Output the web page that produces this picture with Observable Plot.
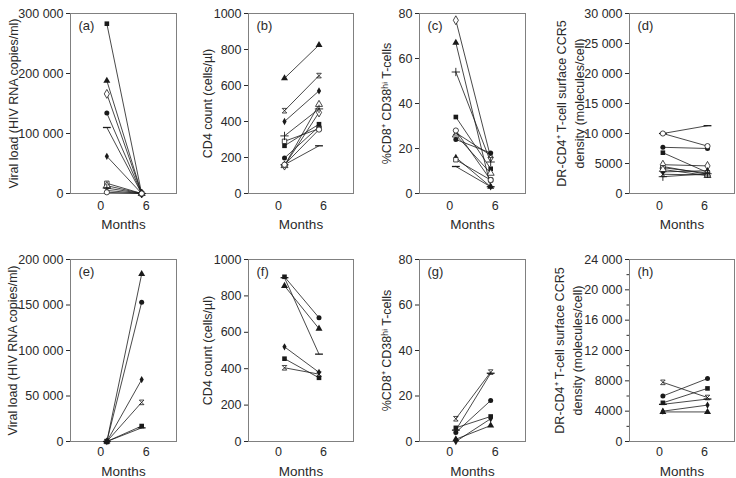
<!DOCTYPE html>
<html><head><meta charset="utf-8">
<script src="https://cdn.jsdelivr.net/npm/d3@7"></script>
<script src="https://cdn.jsdelivr.net/npm/@observablehq/plot@0.6"></script>
<style>
body{margin:0;background:#fff;}
#chart{position:relative;width:736px;height:478px;overflow:hidden;}
#chart svg{position:absolute;overflow:visible;background:none;}
</style></head><body><div id="chart"></div>
<script>
// ---------- data ----------
const months = [0, 6];
const monthPosA = [0.8, 5.4];   // plotted month positions, columns 1-3
const monthPosB = [0.45, 6.4];  // plotted month positions, column 4

// top row: 11 subjects
const topSymbols = ["sq","tri","diaO","cir","dash","dia","sqO","triO","plus","xbar","cirO"];
const viralTop0 = [283000,188000,166000,134000,110000,62000,17000,13000,9000,5000,2000];
const viralTop6 = [0,0,0,0,0,0,0,0,0,0,0];
const cd4Top0 = [265,640,155,197,160,400,290,155,320,460,160];
const cd4Top6 = [385,825,450,371,265,570,360,495,470,655,355];
const cd8Top0 = [34,67,77,24,12,16,15,26,54,27,28];
const cd8Top6 = [11,3,16,18,3,3,6,9,14,17,6];
const ccr5Top0 = [6800,4500,4800,7700,10000,3600,4300,4000,2800,3200,10000];
const ccr5Top6 = [3500,3200,4600,7500,11300,3800,3400,3000,3300,3100,7900];

// bottom row: 6 subjects
const bottomSymbols = ["tri","cir","dia","xbar","dash","sq"];
const bottomSymbolsF0 = ["tri","sq","dia","xbar","dash","sq"];
const viralBot0 = [0,0,0,0,0,0];
const viralBot6 = [184000,153000,68000,43000,15000,17000];
const cd4Bot0 = [855,905,520,405,900,455];
const cd4Bot6 = [620,680,380,370,480,350];
const cd8Bot0 = [1,4,0,10,5,6];
const cd8Bot6 = [7,18,10,30.5,30,11];
const ccr5Bot0 = [3900,6000,4000,7800,4900,5100];
const ccr5Bot6 = [3900,8300,4800,5800,5600,7000];

// axis ticks
const viralTicksTop = [0,100000,200000,300000];
const viralTicksBot = [0,50000,100000,150000,200000];
const cd4Ticks = [0,200,400,600,800,1000];
const cd8Ticks = [0,20,40,60,80];
const ccr5TicksTop = [0,5000,10000,15000,20000,25000,30000];
const ccr5TicksBot = [0,4000,8000,12000,16000,20000,24000];
const ccr5MinorBot = [2000,6000,10000,14000,18000,22000];

const labViral = "Viral load (HIV RNA copies/ml)";
const labCD4 = "CD4 count (cells/\u00b5l)";
const labCD8 = "%CD8\u207a CD38\u02b0\u2071 T-cells";
const labCCR5 = "DR-CD4\u207a T-cell surface CCR5\ndensity (molecules/cell)";

// ---------- rendering ----------
const ink = "#1a1a1a";
const dashSym = {draw(ctx, size){ const w = Math.sqrt(size)*0.85; ctx.moveTo(-w,0); ctx.lineTo(w,0); }};
const xbarSym = {draw(ctx, size){ const r = Math.sqrt(size)*0.5;
  ctx.moveTo(-r,-r); ctx.lineTo(r,-r); ctx.moveTo(-r,r); ctx.lineTo(r,r);
  ctx.moveTo(-r,-r); ctx.lineTo(r,r); ctx.moveTo(r,-r); ctx.lineTo(-r,r); }};
const symStyle = {
  sq:   {symbol:"square", fill:ink, r:2.6},
  tri:  {symbol:"triangle", fill:ink, r:2.6},
  diaO: {symbol:"diamond", fill:"white", stroke:ink, strokeWidth:0.8, r:2.7},
  cir:  {symbol:"circle", fill:ink, r:2.5},
  dash: {symbol:dashSym, fill:"none", stroke:ink, strokeWidth:1.3, r:2.6},
  dia:  {symbol:"diamond", fill:ink, r:2.2},
  sqO:  {symbol:"square", fill:"white", stroke:ink, strokeWidth:0.8, r:2.5},
  triO: {symbol:"triangle", fill:"white", stroke:ink, strokeWidth:0.8, r:2.6},
  plus: {symbol:"plus", fill:"none", stroke:ink, strokeWidth:0.9, r:2.8},
  xbar: {symbol:xbarSym, fill:"none", stroke:ink, strokeWidth:0.8, r:2.6},
  cirO: {symbol:"circle", fill:"white", stroke:ink, strokeWidth:0.8, r:2.6}
};
const fmt = v => v >= 10000 ? d3.format(",")(v).replace(/,/g, " ") : String(v);

const cols = [
  {left:0,   width:186, mL:70, mR:10},
  {left:186, width:184, mL:62, mR:17},
  {left:370, width:180, mL:49, mR:25},
  {left:550, width:186, mL:79, mR:2}
];
const rowsGeo = [
  {top:0,   height:235, mT:13, mB:42, tickPad:8, monthsDy:31},
  {top:235, height:243, mT:24, mB:37, tickPad:6, monthsDy:30}
];

function panel(c, r, p) {
  const col = cols[c], row = rowsGeo[r];
  const syms0 = p.syms0 || p.syms;
  const data = [];
  p.v0.forEach((v, i) => {
    data.push({id:i, month:p.pos[0], value:v, sym:syms0[i]});
    data.push({id:i, month:p.pos[1], value:p.v6[i], sym:p.syms[i]});
  });
  const marks = [
    Plot.axisY({ticks:p.ticks, tickFormat:fmt, tickSize:4, tickPadding:3, label:null}),
  ];
  if (p.minor) marks.push(Plot.axisY({ticks:p.minor, tickFormat:() => "", tickSize:2.5, label:null}));
  marks.push(
    Plot.axisX({ticks:[0,6], tickSize:0, tickPadding:row.tickPad, label:null}),
    Plot.frame({stroke:"#808080", strokeWidth:1}),
    Plot.line(data, {x:"month", y:"value", z:"id", stroke:ink, strokeWidth:0.8})
  );
  for (const d of data) marks.push(Plot.dot([d], {x:"month", y:"value", ...symStyle[d.sym]}));
  marks.push(
    Plot.text([p.tag], {frameAnchor:"top-left", dx:8, dy:7, textAnchor:"start", lineAnchor:"top", fontSize:13}),
    Plot.text(["Months"], {frameAnchor:"bottom", dy:row.monthsDy, lineAnchor:"middle", fontSize:13.5}),
    Plot.text([p.label], {frameAnchor:"left", rotate:-90, dx:p.labelDx, textAnchor:"middle", lineAnchor:"middle", fontSize:12.5, lineHeight:1.4})
  );
  const svg = Plot.plot({
    width: col.width, height: row.height,
    marginLeft: col.mL, marginRight: col.mR, marginTop: row.mT, marginBottom: row.mB,
    x: {domain:[-4, 10]},
    y: {domain:[0, p.max]},
    style: {fontFamily:"'Liberation Sans', Arial, Helvetica, sans-serif", fontSize:"12.5px", color:"#2a2a2a", background:"none", overflow:"visible"},
    marks
  });
  svg.style.left = col.left + "px";
  svg.style.top = row.top + "px";
  document.getElementById("chart").appendChild(svg);
}

panel(0,0,{tag:"(a)", v0:viralTop0, v6:viralTop6, syms:topSymbols, pos:monthPosA, max:300000, ticks:viralTicksTop, label:labViral, labelDx:-58});
panel(1,0,{tag:"(b)", v0:cd4Top0, v6:cd4Top6, syms:topSymbols, pos:monthPosA, max:1000, ticks:cd4Ticks, label:labCD4, labelDx:-42});
panel(2,0,{tag:"(c)", v0:cd8Top0, v6:cd8Top6, syms:topSymbols, pos:monthPosA, max:80, ticks:cd8Ticks, label:labCD8, labelDx:-34});
panel(3,0,{tag:"(d)", v0:ccr5Top0, v6:ccr5Top6, syms:topSymbols, pos:monthPosB, max:30000, ticks:ccr5TicksTop, label:labCCR5, labelDx:-60});
panel(0,1,{tag:"(e)", v0:viralBot0, v6:viralBot6, syms:bottomSymbols, pos:monthPosA, max:200000, ticks:viralTicksBot, label:labViral, labelDx:-59});
panel(1,1,{tag:"(f)", v0:cd4Bot0, v6:cd4Bot6, syms:bottomSymbols, syms0:bottomSymbolsF0, pos:monthPosA, max:1000, ticks:cd4Ticks, label:labCD4, labelDx:-42});
panel(2,1,{tag:"(g)", v0:cd8Bot0, v6:cd8Bot6, syms:bottomSymbols, pos:monthPosA, max:80, ticks:cd8Ticks, label:labCD8, labelDx:-34});
panel(3,1,{tag:"(h)", v0:ccr5Bot0, v6:ccr5Bot6, syms:bottomSymbols, pos:monthPosB, max:24000, ticks:ccr5TicksBot, minor:ccr5MinorBot, label:labCCR5, labelDx:-62});
</script></body></html>
